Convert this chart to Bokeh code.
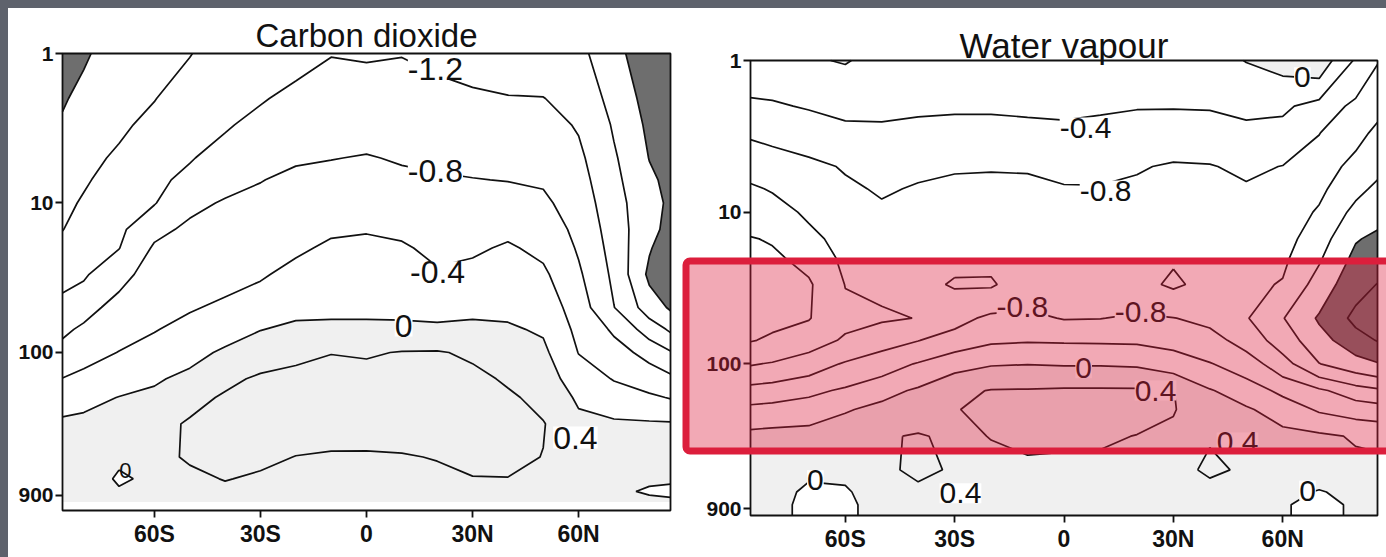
import numpy as np
from bokeh.plotting import figure
from bokeh.layouts import row
from bokeh.models import Range1d, FixedTicker, Label, BasicTickFormatter, BoxAnnotation
from bokeh.embed import file_html
from bokeh.resources import INLINE

# ---------------- data ----------------
lats = [-86, -80, -70, -60, -50, -40, -30, -20, -10, 0, 10, 20, 30, 40, 50, 60, 70, 80, 86]
pressures = [1, 2, 3, 5, 7, 10, 15, 20, 30, 50, 70, 100, 150, 200, 300, 500, 700, 850, 1000]

# one list per latitude (top -> bottom in pressure)
co2_columns = [
    [-2.19, -2.04, -1.95, -1.84, -1.77, -1.69, -1.61, -1.49, -1.32, -1.08, -0.88, -0.66, -0.39, -0.18, 0.08, 0.15, 0.18, 0.18, 0.18],
    [-2.04, -1.90, -1.82, -1.71, -1.64, -1.56, -1.45, -1.36, -1.25, -0.94, -0.73, -0.53, -0.30, -0.11, 0.10, 0.17, 0.18, 0.18, 0.18],
    [-1.85, -1.74, -1.66, -1.54, -1.46, -1.38, -1.28, -1.21, -0.92, -0.66, -0.53, -0.39, -0.16, 0.01, 0.10, 0.05, -0.04, 0.03, 0.10],
    [-1.78, -1.61, -1.51, -1.39, -1.30, -1.22, -0.90, -0.75, -0.64, -0.51, -0.42, -0.25, -0.05, 0.09, 0.25, 0.28, 0.06, 0.10, 0.12],
    [-1.61, -1.45, -1.35, -1.23, -1.09, -0.88, -0.73, -0.66, -0.56, -0.43, -0.29, -0.12, 0.10, 0.27, 0.45, 0.45, 0.30, 0.20, 0.15],
    [-1.48, -1.33, -1.24, -1.04, -0.90, -0.77, -0.67, -0.60, -0.50, -0.34, -0.15, 0.06, 0.31, 0.45, 0.55, 0.55, 0.42, 0.30, 0.22],
    [-1.40, -1.23, -1.09, -0.92, -0.81, -0.72, -0.61, -0.54, -0.44, -0.20, -0.01, 0.21, 0.46, 0.55, 0.60, 0.50, 0.33, 0.28, 0.25],
    [-1.30, -1.11, -0.99, -0.83, -0.74, -0.64, -0.53, -0.45, -0.30, -0.09, 0.07, 0.32, 0.50, 0.58, 0.60, 0.39, 0.30, 0.27, 0.25],
    [-1.21, -1.04, -0.93, -0.81, -0.69, -0.57, -0.44, -0.35, -0.22, -0.06, 0.06, 0.39, 0.55, 0.60, 0.58, 0.35, 0.28, 0.25, 0.24],
    [-1.23, -1.03, -0.92, -0.78, -0.67, -0.55, -0.42, -0.33, -0.21, -0.06, 0.06, 0.36, 0.55, 0.60, 0.57, 0.35, 0.28, 0.26, 0.25],
    [-1.21, -1.05, -0.95, -0.83, -0.73, -0.60, -0.46, -0.36, -0.23, -0.07, 0.06, 0.42, 0.55, 0.60, 0.58, 0.37, 0.28, 0.26, 0.25],
    [-1.27, -1.09, -0.99, -0.85, -0.77, -0.67, -0.56, -0.48, -0.36, -0.11, 0.06, 0.43, 0.55, 0.60, 0.60, 0.42, 0.30, 0.27, 0.25],
    [-1.33, -1.14, -1.03, -0.88, -0.79, -0.67, -0.54, -0.45, -0.30, -0.09, 0.09, 0.34, 0.50, 0.57, 0.60, 0.52, 0.38, 0.30, 0.27],
    [-1.38, -1.18, -1.06, -0.90, -0.81, -0.65, -0.47, -0.36, -0.24, -0.07, 0.04, 0.18, 0.35, 0.46, 0.55, 0.50, 0.39, 0.32, 0.28],
    [-1.40, -1.19, -1.08, -0.94, -0.84, -0.73, -0.58, -0.48, -0.33, -0.15, -0.04, 0.08, 0.20, 0.29, 0.42, 0.39, 0.30, 0.25, 0.22],
    [-1.50, -1.35, -1.23, -1.12, -1.05, -0.98, -0.90, -0.84, -0.74, -0.60, -0.50, -0.41, -0.21, -0.06, 0.10, 0.18, 0.20, 0.20, 0.20],
    [-1.85, -1.72, -1.64, -1.55, -1.50, -1.44, -1.38, -1.34, -1.28, -1.19, -0.86, -0.64, -0.42, -0.22, 0.06, 0.15, 0.12, 0.05, 0.12],
    [-2.30, -2.15, -2.08, -2.01, -1.93, -1.88, -1.90, -1.97, -2.08, -1.79, -1.38, -0.93, -0.57, -0.34, 0.05, 0.12, 0.04, -0.03, 0.06],
    [-2.38, -2.32, -2.25, -2.15, -2.10, -2.06, -2.10, -2.20, -2.30, -2.05, -1.66, -1.16, -0.70, -0.42, 0.04, 0.10, 0.04, -0.06, 0.05],
]

h2o_columns = [
    [-0.15, -0.48, -0.75, -1.06, -1.25, -1.42, -1.62, -1.72, -1.80, -1.74, -1.62, -1.23, -0.66, -0.30, 0.12, 0.20, 0.20, 0.20, 0.20],
    [-0.20, -0.44, -0.70, -0.99, -1.17, -1.36, -1.57, -1.66, -1.72, -1.68, -1.55, -1.17, -0.61, -0.27, 0.15, 0.20, 0.12, 0.12, 0.12],
    [-0.03, -0.37, -0.62, -0.89, -1.00, -1.13, -1.32, -1.49, -1.65, -1.62, -1.38, -1.00, -0.50, -0.19, 0.15, 0.06, -0.06, -0.10, -0.10],
    [0.02, -0.30, -0.50, -0.77, -0.86, -0.95, -1.04, -1.10, -1.19, -1.30, -1.15, -0.76, -0.34, -0.04, 0.30, 0.08, -0.04, -0.08, -0.08],
    [-0.10, -0.33, -0.46, -0.64, -0.76, -0.86, -0.96, -1.03, -1.13, -1.25, -0.95, -0.59, -0.14, 0.12, 0.36, 0.30, 0.18, 0.15, 0.15],
    [-0.10, -0.34, -0.51, -0.73, -0.83, -0.90, -0.98, -1.04, -1.11, -1.19, -0.81, -0.37, 0.06, 0.21, 0.43, 0.50, 0.30, 0.25, 0.20],
    [-0.12, -0.35, -0.54, -0.77, -0.87, -0.96, -1.06, -1.13, -1.23, -0.94, -0.63, -0.13, 0.30, 0.38, 0.33, 0.35, 0.25, 0.22, 0.20],
    [-0.12, -0.35, -0.54, -0.78, -0.87, -0.96, -1.05, -1.12, -1.24, -0.71, -0.46, -0.03, 0.42, 0.50, 0.41, 0.30, 0.25, 0.22, 0.20],
    [-0.12, -0.33, -0.52, -0.76, -0.90, -0.98, -1.05, -1.05, -1.00, -0.72, -0.43, -0.01, 0.43, 0.55, 0.50, 0.30, 0.25, 0.22, 0.20],
    [-0.12, -0.32, -0.49, -0.69, -0.83, -0.92, -1.00, -1.03, -1.00, -0.82, -0.44, -0.03, 0.45, 0.55, 0.47, 0.30, 0.25, 0.22, 0.20],
    [-0.12, -0.35, -0.52, -0.71, -0.82, -0.92, -1.00, -1.05, -1.05, -0.81, -0.45, -0.03, 0.45, 0.55, 0.45, 0.30, 0.25, 0.22, 0.20],
    [-0.10, -0.38, -0.56, -0.77, -0.86, -0.94, -1.03, -1.10, -1.10, -0.74, -0.46, -0.05, 0.45, 0.53, 0.39, 0.30, 0.25, 0.22, 0.20],
    [-0.10, -0.38, -0.59, -0.84, -0.90, -1.00, -1.10, -1.17, -1.25, -0.79, -0.53, -0.19, 0.41, 0.42, 0.33, 0.30, 0.25, 0.22, 0.20],
    [-0.12, -0.37, -0.60, -0.82, -0.92, -1.00, -1.08, -1.12, -1.10, -0.90, -0.65, -0.38, 0.03, 0.18, 0.38, 0.45, 0.30, 0.25, 0.20],
    [0.01, -0.31, -0.50, -0.73, -0.84, -0.90, -0.97, -1.02, -1.10, -1.17, -0.96, -0.59, -0.21, 0.05, 0.20, 0.36, 0.25, 0.20, 0.15],
    [0.12, -0.33, -0.54, -0.81, -0.88, -0.96, -1.05, -1.12, -1.23, -1.58, -1.39, -1.04, -0.49, -0.18, 0.12, 0.20, 0.08, 0.03, 0.03],
    [0.25, -0.55, -0.79, -0.99, -1.11, -1.25, -1.42, -1.55, -1.77, -2.05, -1.85, -1.59, -0.73, -0.45, 0.08, 0.15, -0.02, -0.10, -0.10],
    [-0.45, -0.90, -1.08, -1.33, -1.50, -1.71, -1.97, -2.10, -2.27, -2.50, -2.24, -1.84, -1.02, -0.57, -0.04, 0.12, 0.08, 0.05, 0.05],
    [-0.78, -1.10, -1.28, -1.51, -1.67, -1.87, -2.08, -2.22, -2.41, -2.60, -2.42, -1.97, -1.13, -0.62, -0.08, 0.12, 0.10, 0.08, 0.08],
]

contour_levels = [-3.0, -2.4, -2.0, -1.6, -1.2, -0.8, -0.4, 0.0, 0.4, 1.0]

x_ticks = [-60, -30, 0, 30, 60]
x_tick_labels = ["60S", "30S", "0", "30N", "60N"]
y_ticks = [1, 10, 100, 900]
y_tick_labels = ["1", "10", "100", "900"]

co2_axis_bottom = 1140   # lowest pressure shown on the CO2 panel's axis
h2o_axis_bottom = 1000

# contour labels: (text, latitude, pressure)
co2_labels = [("-1.2", 19.5, 1.26), ("-0.8", 19.5, 6.1), ("-0.4", 20.1, 29.0),
              ("0", 10.5, 66.0), ("0.4", 59.1, 371.0)]
co2_small_labels = [("0", -68.2, 616.0)]
h2o_labels = [("0", 65.4, 1.29), ("-0.4", 5.9, 2.77), ("-0.8", 11.4, 7.2),
              ("-0.8", -11.4, 42.4), ("-0.8", 21.0, 45.7), ("0", 5.4, 107.0),
              ("0.4", 25.1, 150.0), ("0.4", 47.6, 330.0), ("0", -68.2, 585.0),
              ("0.4", -28.4, 714.0), ("0", 66.8, 685.0)]

# ---------------- styling / layout ----------------
DARK = "#6e6e6e"
LIGHT = "#f0f0f0"
INK = "#111111"
band_colors = [DARK, DARK, "white", "white", "white", "white", "white", LIGHT, LIGHT]
FONT = "Liberation Sans"


def make_panel(title, title_y, columns, axis_bottom, canvas, box, labels, small_labels,
               label_size, title_size):
    cx0, cy0, cw, ch = canvas          # canvas position/size on the page (px)
    bx0, bx1, by0, by1 = box           # where the data box should sit on the page (px)
    deg_px = (lats[-1] - lats[0]) / (bx1 - bx0)
    x_start = lats[0] - (bx0 - cx0) * deg_px
    x_end = lats[-1] + (cx0 + cw - bx1) * deg_px
    dec_px = np.log10(axis_bottom / pressures[0]) / (by1 - by0)
    y_top = pressures[0] * 10 ** (-(by0 - cy0) * dec_px)
    y_bot = axis_bottom * 10 ** ((cy0 + ch - by1) * dec_px)

    p = figure(width=cw, height=ch, output_backend="svg", toolbar_location=None,
               y_axis_type="log", x_range=Range1d(x_start, x_end),
               y_range=Range1d(y_bot, y_top),
               min_border_left=0, min_border_right=0, min_border_top=0, min_border_bottom=0)
    z = np.array(columns, dtype=float).T
    p.contour(x=np.array(lats, dtype=float), y=np.array(pressures, dtype=float), z=z,
              levels=contour_levels, fill_color=band_colors,
              line_color=INK, line_width=1.7)
    # plot box
    p.quad(left=lats[0], right=lats[-1], top=pressures[0], bottom=axis_bottom,
           fill_color=None, line_color=INK, line_width=1.8)
    p.xgrid.visible = False
    p.ygrid.visible = False
    p.outline_line_color = None
    p.background_fill_color = "white"
    p.border_fill_color = "white"
    for ax in (p.xaxis[0], p.yaxis[0]):
        ax.axis_line_color = None
        ax.major_tick_line_width = 1.8
        ax.major_tick_line_color = INK
        ax.major_tick_in = 0
        ax.major_tick_out = 7
        ax.minor_tick_line_color = None
        ax.major_label_text_font = FONT
        ax.major_label_text_font_style = "bold"
        ax.major_label_text_color = INK
    p.xaxis.fixed_location = axis_bottom
    p.xaxis.ticker = FixedTicker(ticks=x_ticks)
    p.xaxis.major_label_overrides = {t: s for t, s in zip(x_ticks, x_tick_labels)}
    p.xaxis.major_label_text_font_size = "23px"
    p.xaxis.major_label_standoff = 3
    p.yaxis.fixed_location = lats[0]
    p.yaxis.ticker = FixedTicker(ticks=y_ticks)
    p.yaxis.formatter = BasicTickFormatter()
    p.yaxis.major_label_overrides = {t: s for t, s in zip(y_ticks, y_tick_labels)}
    p.yaxis.major_label_text_font_size = "21px"
    p.yaxis.major_label_standoff = 2
    p.add_layout(Label(x=0, y=title_y - cy0, y_units="canvas", text=title,
                       text_align="center", text_baseline="middle",
                       text_font=FONT, text_font_size=title_size, text_color=INK))
    for txt, la, pr in labels:
        p.add_layout(Label(x=la, y=pr, text=txt, text_align="center", text_baseline="middle",
                           text_font=FONT, text_font_size=label_size, text_color=INK,
                           background_fill_color="white"))
    for txt, la, pr in small_labels:
        p.add_layout(Label(x=la, y=pr, text=txt, text_align="center", text_baseline="middle",
                           text_font=FONT, text_font_size="22px", text_color=INK))
    return p


p1 = make_panel("Carbon dioxide", 35, co2_columns, co2_axis_bottom,
                (8, 8, 670, 549), (62, 670, 53, 510),
                co2_labels, co2_small_labels, "32px", "33px")
p2 = make_panel("Water vapour", 45, h2o_columns, h2o_axis_bottom,
                (678, 8, 708, 549), (750, 1377, 60, 515),
                h2o_labels, [], "30px", "35px")

# red highlight frame (semi-transparent), in canvas pixels of the right panel
highlight = BoxAnnotation(left=7.5, right=760, top=252.5, bottom=442.5,
                          left_units="canvas", right_units="canvas",
                          top_units="canvas", bottom_units="canvas",
                          fill_color="#dc1e3c", fill_alpha=0.38,
                          line_color="#dc1e3c", line_alpha=1.0, line_width=7,
                          border_radius=4)
p2.add_layout(highlight)

layout = row(p1, p2, styles={"background-color": "white"})
html = file_html(layout, INLINE, "Carbon dioxide / Water vapour")
style = ("<style>html, body {background:#5e626c !important;} "
         "body {margin:0 !important; padding:8px 0 0 8px !important; overflow:hidden;}</style>")
idx = html.rfind("</head>")
html = html[:idx] + style + html[idx:]
open("out.html", "w").write(html)
